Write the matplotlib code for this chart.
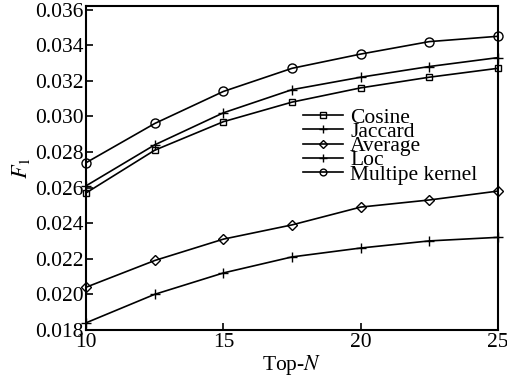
import matplotlib
matplotlib.use('Agg')
import matplotlib.pyplot as plt

plt.rcParams['font.family'] = ['Liberation Serif', 'DejaVu Serif']
plt.rcParams['mathtext.fontset'] = 'stix'

top_n = [10, 12.5, 15, 17.5, 20, 22.5, 25]
cosine = [0.0257, 0.0281, 0.0297, 0.0308, 0.0316, 0.0322, 0.0327]
jaccard = [0.0261, 0.0284, 0.0302, 0.0315, 0.0322, 0.0328, 0.0333]
average = [0.0204, 0.0219, 0.0231, 0.0239, 0.0249, 0.0253, 0.0258]
loc = [0.0184, 0.0200, 0.0212, 0.0221, 0.0226, 0.0230, 0.0232]
multiple = [0.0274, 0.0296, 0.0314, 0.0327, 0.0335, 0.0342, 0.0345]

series = [
    ('Cosine', cosine, 's', 5),
    ('Jaccard', jaccard, '+', 7),
    ('Average', average, 'D', 5),
    ('Loc', loc, '+', 7),
    ('Multipe kernel', multiple, 'o', 6.5),
]

fig = plt.figure(figsize=(5.07, 3.77), dpi=100)
ax = fig.add_axes([0.170, 0.125, 0.812, 0.859])
for name, ys, m, ms in series:
    ax.plot(top_n, ys, color='black', linewidth=1.2, marker=m, markersize=ms,
            markerfacecolor='none', markeredgecolor='black', markeredgewidth=1.0,
            label=name, clip_on=False)

ax.set_xlim(10, 25)
ax.set_ylim(0.018, 0.0362)
ax.set_xticks([10, 15, 20, 25])
ax.set_yticks([0.018 + 0.002 * i for i in range(10)])
ax.set_yticklabels(['%.3f' % (0.018 + 0.002 * i) for i in range(10)])
ax.tick_params(direction='in', labelsize=15.5, length=5, width=1.2, pad=2)
for s in ax.spines.values():
    s.set_linewidth(1.5)
ax.set_xlabel('Top-$N$', fontsize=15.5, labelpad=1)
ax.set_ylabel('$F_1$', fontsize=16, labelpad=2)
ax.legend(loc='upper left', bbox_to_anchor=(0.5, 0.72), frameon=False, fontsize=15.5,
          handlelength=1.85, handletextpad=0.35, labelspacing=-0.27, borderpad=0,
          markerscale=0.75)
fig.savefig('out.png', dpi=100)
